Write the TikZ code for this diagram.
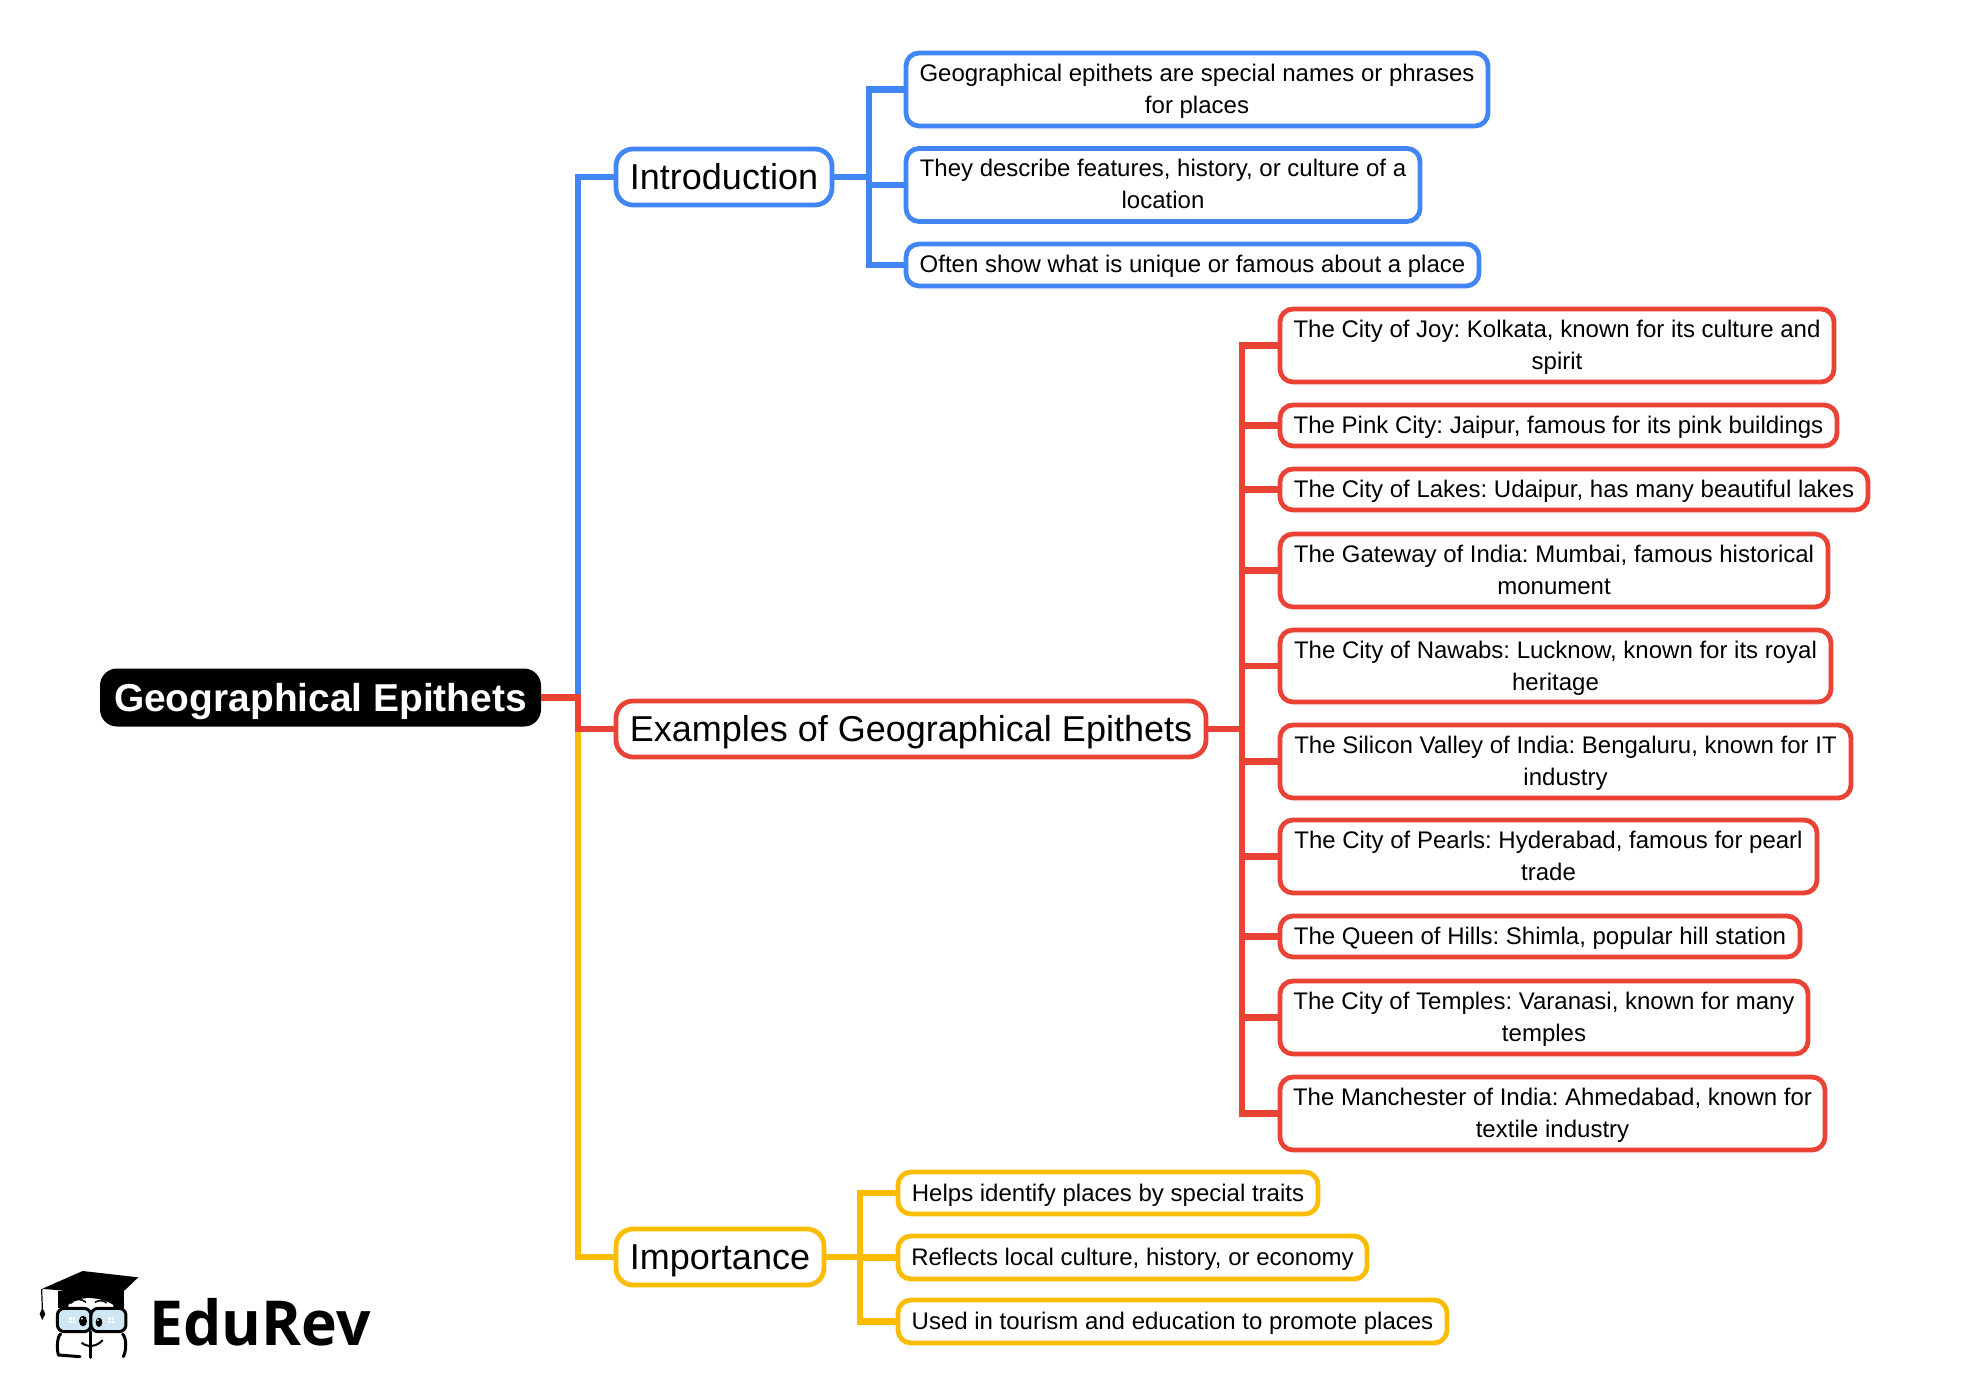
\documentclass[tikz,border=0pt]{standalone}
\usepackage{fontspec}
\setmainfont{Liberation Sans}
\newfontfamily\logofont{Open Sans}
\frenchspacing
\definecolor{gblue}{HTML}{4285F4}
\definecolor{gred}{HTML}{EA4335}
\definecolor{gyel}{HTML}{FBBC04}
\definecolor{glass}{HTML}{CFE6F5}
\tikzset{
  boxbase/.style={draw=#1,fill=white,line width=4.8pt,inner sep=0pt,outer sep=0pt,align=center,text=black},
  leafbox/.style={boxbase=#1,rounded corners=13pt,font=\fontsize{24}{32}\selectfont},
  midbox/.style={boxbase=#1,rounded corners=17pt,font=\fontsize{36}{44}\selectfont},
  rootbox/.style={fill=black,text=white,inner sep=0pt,outer sep=0pt,align=center,rounded corners=17pt,font=\fontsize{38.9}{46}\selectfont\bfseries},
  link/.style={draw=#1,line width=6.4pt,line join=miter,line cap=butt},
  logotext/.style={font=\logofont\fontsize{62}{70}\selectfont\bfseries,inner sep=0pt,text=black},
  logoline/.style={draw=black,line width=3pt,line cap=round}
}
% name, left, top, right, bottom, style, strut height, strut depth, text
\newcommand{\bx}[9]{\node[#6,minimum width={(#4-#2)*1pt},minimum height={(#5-#3)*1pt}] (#1) at ({(#2+#4)/2},{(#3+#5)/2}) {\rule{0pt}{#7pt}#9\rule[-#8pt]{0pt}{0pt}};}
\newcommand{\lf}[7]{\bx{#1}{#2}{#3}{#4}{#5}{leafbox=#6}{22}{6}{#7}}
\begin{document}
\begin{tikzpicture}[x=1pt,y=-1pt]
\useasboundingbox (0,0) rectangle (1970,1396);
\fill[white] (0,0) rectangle (1970,1396);
\coordinate (busR) at (578,0);
\coordinate (busI) at (869,0);
\coordinate (busE) at (1242,0);
\coordinate (busM) at (860,0);

\bx{root}{100}{668.5}{541}{726.5}{rootbox}{37}{9}{Geographical Epithets}
\bx{intro}{616}{149}{832}{205}{midbox=gblue}{34}{9}{Introduction}
\bx{exa}{616}{701}{1206}{757}{midbox=gred}{34}{9}{Examples of Geographical Epithets}
\bx{imp}{616}{1229}{824}{1285}{midbox=gyel}{34}{9}{Importance}

\lf{i1}{906}{53}{1488}{126}{gblue}{Geographical epithets are special names or phrases\\for places}
\lf{i2}{906}{148.5}{1420}{221.5}{gblue}{They describe features, history, or culture of a\\location}
\lf{i3}{906}{244}{1479}{286}{gblue}{Often show what is unique or famous about a place}

\lf{e1}{1280}{309}{1834}{382}{gred}{The City of Joy: Kolkata, known for its culture and\\spirit}
\lf{e2}{1280}{405}{1837}{446}{gred}{The Pink City: Jaipur, famous for its pink buildings}
\lf{e3}{1280}{469}{1868}{510}{gred}{The City of Lakes: Udaipur, has many beautiful lakes}
\lf{e4}{1280}{534}{1828}{607}{gred}{The Gateway of India: Mumbai, famous historical\\monument}
\lf{e5}{1280}{630}{1831}{702}{gred}{The City of Nawabs: Lucknow, known for its royal\\heritage}
\lf{e6}{1280}{725}{1851}{798}{gred}{The Silicon Valley of India: Bengaluru, known for IT\\industry}
\lf{e7}{1280}{820}{1817}{893}{gred}{The City of Pearls: Hyderabad, famous for pearl\\trade}
\lf{e8}{1280}{916}{1800}{957}{gred}{The Queen of Hills: Shimla, popular hill station}
\lf{e9}{1280}{981}{1808}{1054}{gred}{The City of Temples: Varanasi, known for many\\temples}
\lf{e10}{1280}{1077}{1825}{1150}{gred}{The Manchester of India: Ahmedabad, known for\\textile industry}

\lf{m1}{898}{1172}{1318}{1214}{gyel}{Helps identify places by special traits}
\lf{m2}{898}{1236}{1367}{1279}{gyel}{Reflects local culture, history, or economy}
\lf{m3}{898}{1300}{1447}{1343}{gyel}{Used in tourism and education to promote places}

% main branches
\draw[link=gblue] (root.east) -- (busR |- root.east) |- (intro.west);
\draw[link=gyel] (root.east) -- (busR |- root.east) |- (imp.west);
\draw[link=gred] (root.east) -- (busR |- root.east) |- (exa.west);
% sub branches
\foreach \n in {i1,i2,i3}{\draw[link=gblue] (intro.east) -- (busI |- intro.east) |- (\n.west);}
\foreach \n in {e1,e2,e3,e4,e5,e6,e7,e8,e9,e10}{\draw[link=gred] (exa.east) -- (busE |- exa.east) |- (\n.west);}
\foreach \n in {m1,m2,m3}{\draw[link=gyel] (imp.east) -- (busM |- imp.east) |- (\n.west);}

% logo
\begin{scope}[shift={(0,1240)},x=1pt,y=-1pt,scale=1/3]
  \fill[black] (175,152) -- (372,152) -- (372,205) -- (175,205) -- cycle;
  \fill[white] (205,195) .. controls (240,165) and (300,170) .. (340,195) -- (340,205) -- (205,205) -- cycle;
  \draw[black,line width=1.5pt] (212,190) .. controls (225,175) and (245,175) .. (258,187);
  \draw[black,line width=1.5pt] (285,187) .. controls (295,180) and (310,180) .. (320,189);
  \fill[black] (125,147) -- (248,93) -- (415,112) -- (340,183) .. controls (280,165) and (200,150) .. (125,147) -- cycle;
  \draw[black,line width=1.2pt] (125,147) -- (127,205);
  \fill[black] (127,203) -- (136,222) -- (127,240) -- (119,222) -- cycle;
  \draw[logoline,fill=glass,rounded corners=7pt] (172,205) rectangle (273,275);
  \draw[logoline,fill=glass,rounded corners=7pt] (273,205) rectangle (378,275);
  \draw[logoline] (182,282) .. controls (170,290) and (170,335) .. (176,345) -- (240,350);
  \draw[logoline] (368,282) .. controls (380,295) and (380,330) .. (370,350);
  \draw[logoline] (273,275) -- (273,352);
  \fill[black] (249,243) ellipse [x radius=12,y radius=16];
  \fill[black] (297,247) ellipse [x radius=10,y radius=14];
  \fill[white] (246,236) circle [radius=3];
  \fill[white] (294,240) circle [radius=3];
  \fill[white] (208,232) rectangle (226,248);
  \fill[white] (324,232) rectangle (342,248);
  \draw[glass,line width=0.8pt] (217,232) -- (217,248) (208,240) -- (226,240) (333,232) -- (333,248) (324,240) -- (342,240);
  \draw[black,line width=2pt] (245,308) .. controls (260,322) and (290,322) .. (308,300);
\end{scope}
\node[logotext,anchor=base west] (logo) at (149,1345) {\scalebox{.978}[1]{EduRev}};
\end{tikzpicture}
\end{document}
